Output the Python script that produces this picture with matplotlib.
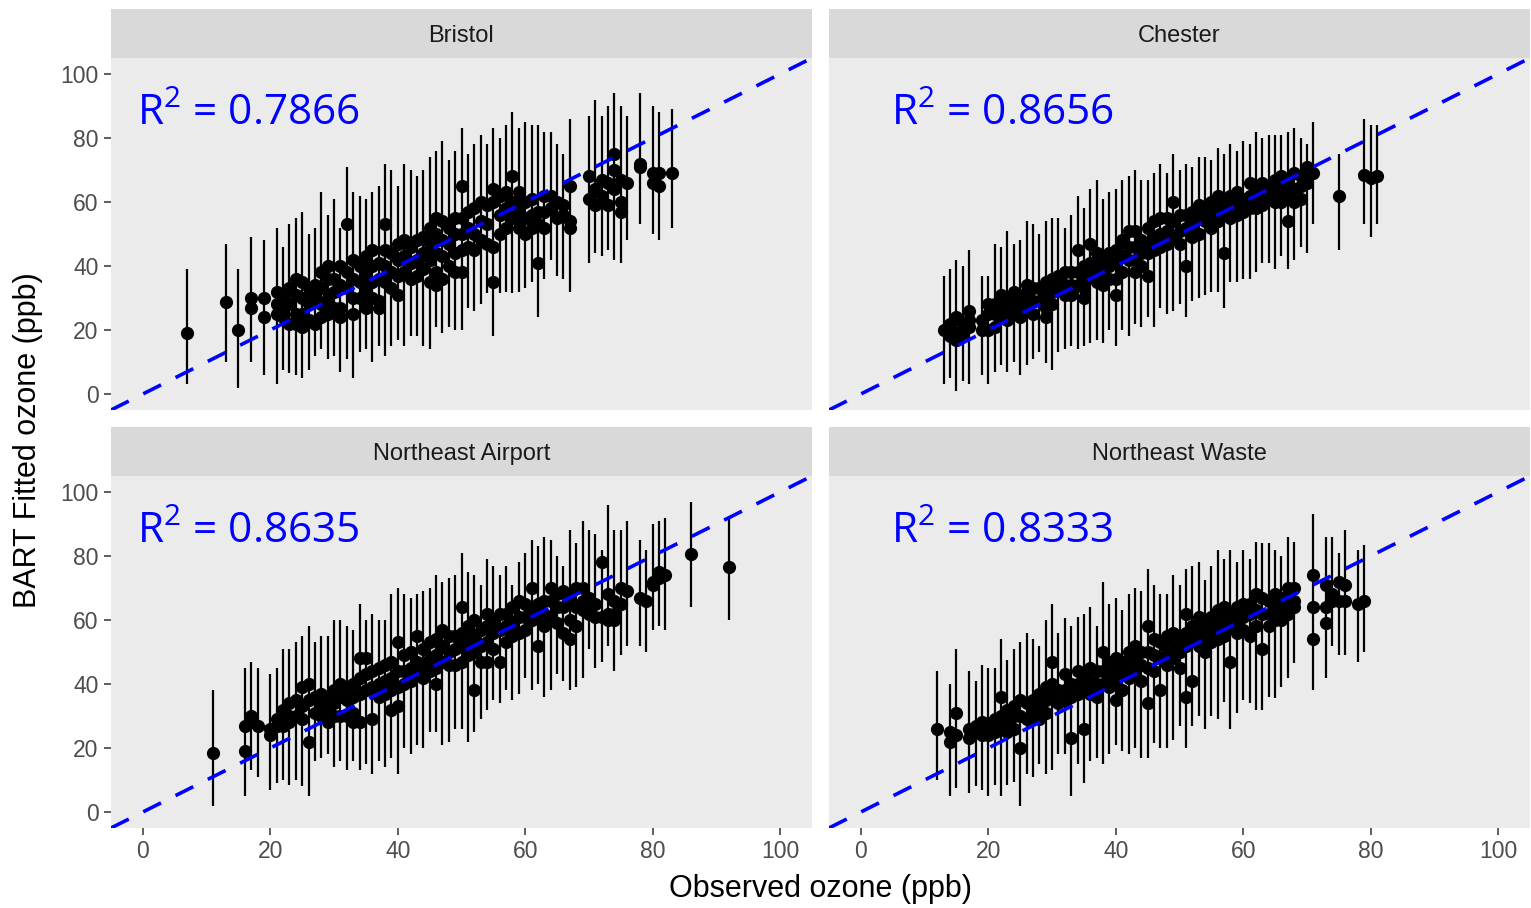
import matplotlib
matplotlib.use("Agg")
import matplotlib.pyplot as plt

plt.rcParams["font.family"] = ["Liberation Sans", "DejaVu Sans"]
plt.rcParams["mathtext.fontset"] = "custom"
plt.rcParams["mathtext.rm"] = "Open Sans"

# ---- Bristol: per observed value -> interval extent and fitted points
bristol_x = [7, 13, 15, 17, 19,
             21, 22, 23, 24, 25, 26, 27, 28, 29, 30, 31, 32, 33, 34, 35, 36, 37, 38, 39, 40,
             41, 42, 43, 44, 45, 46, 47, 48, 49, 50, 51, 52, 53, 54, 55, 56, 57, 58, 59, 60,
             61, 62, 63, 64, 65, 66, 67, 70, 71, 72, 73, 74, 75, 76, 78, 80, 81, 83]
bristol_lo = [3, 10, 2, 10, 6,
              3, 7.5, 6.5, 6, 5, 7.5, 12, 14, 11, 12, 7, 11, 5, 13, 14, 10, 15, 12, 15, 17,
              15, 18, 18, 15, 14, 21, 19, 21, 20, 20, 27, 26, 28, 31.5, 18, 31.5, 32, 31.5, 32, 33,
              35, 24, 36, 42, 37, 36, 32, 41, 44, 43, 45, 42, 41, 48, 53, 50, 48, 52]
bristol_hi = [39, 47, 39, 49, 48,
              52, 46, 53, 55, 57, 50, 52, 63, 56, 61, 52, 71, 63, 62, 61, 63, 65, 72, 70, 65,
              72, 70, 68, 70, 74, 76, 79, 73, 76, 83, 75, 78, 81, 78, 83, 80, 84, 88, 83, 85,
              84, 84, 82, 82, 78, 75, 86, 87, 92, 87, 90, 94, 90, 87, 94, 90, 88, 89]
bristol_pts = [[19], [28.6], [20], [30, 27], [30, 24],
               [32, 28, 25], [30, 26, 24], [33, 28, 22], [36, 31, 25, 22], [35, 30, 25, 21],
               [33, 28, 23], [34, 30, 22], [38, 33, 28, 24], [40, 36, 30, 25], [36, 32, 27],
               [40, 34, 27, 24], [53, 38, 33], [42, 36, 30, 25], [40, 35, 30], [43, 38, 33, 27],
               [45, 40, 35, 30], [41, 36, 29, 27], [53, 45, 40, 35], [44, 38, 33], [47, 42, 37, 31],
               [48, 43, 38], [46, 41, 36], [48, 42, 37], [49, 44, 39], [52, 47, 42, 35],
               [55, 50, 44, 38, 34], [54, 48, 43, 36], [52, 47, 40], [55, 50, 44, 38], [65, 55, 50, 45, 38],
               [57, 52, 46], [58, 50, 45], [60, 54, 48], [59, 53, 47], [64, 60, 46, 35],
               [62, 56, 50], [63, 58, 52], [68, 60, 55], [63, 57, 52], [60, 55, 50],
               [61, 56, 52], [57, 53, 41], [62, 57, 52], [62, 58], [60, 55], [59, 56], [65, 54, 52],
               [68, 61], [64, 59], [67, 62], [66, 59], [75, 70, 64], [67, 60, 57], [66],
               [72, 71], [69, 66], [69, 65], [69]]

# ---- Chester
chester_x = [13, 14, 15, 16, 17, 19, 20,
             21, 22, 23, 24, 25, 26, 27, 28, 29, 30, 31, 32, 33, 34, 35, 36, 37, 38, 39, 40,
             41, 42, 43, 44, 45, 46, 47, 48, 49, 50, 51, 52, 53, 54, 55, 56, 57, 58, 59, 60,
             61, 62, 63, 64, 65, 66, 67, 68, 69, 70, 71, 75, 79, 80, 81]
chester_lo = [3, 5, 1, 4, 3, 6, 3,
              7, 9, 7, 10, 6, 9, 11, 13, 9.6, 7.5, 13, 14, 15, 14, 15, 16, 17, 16, 20, 15,
              20, 18, 22, 21, 24, 21, 27, 25, 26, 28, 24, 29, 30, 31, 32, 32, 27, 35, 35, 36,
              36, 38, 41, 41, 39, 43, 39, 42, 46, 44, 53, 45, 53, 49, 53]
chester_hi = [37, 39, 42, 40, 45, 37, 37,
              47, 46, 51, 47, 48, 54, 53, 50, 54, 55, 55, 52, 56, 62, 58, 64, 67, 61, 63, 64,
              67, 68, 70, 67, 67, 69, 72, 69, 75, 70, 72, 71, 74, 74, 73, 77, 75, 78, 76, 79,
              78, 82, 80, 81, 81, 81, 82, 83, 80, 78, 85, 75, 86, 84, 84]
chester_pts = [[20], [22, 18], [24, 19, 17], [22, 19], [26, 23, 21], [23, 20], [28, 25, 20],
               [28, 25, 21], [31, 27, 24], [30, 27, 23], [32, 28, 25], [31, 28, 24],
               [34, 30, 26], [33, 29, 25], [33, 29], [35, 31, 27, 24], [36, 32, 28],
               [37, 33], [38, 34, 31], [38, 34, 31], [45, 38, 34], [40, 36, 33, 30],
               [47, 41, 37], [44, 39, 35], [42, 38, 34], [44, 40, 36], [45, 41, 36, 31],
               [48, 43, 38], [51, 46, 42], [51, 46, 42, 38], [48, 44, 40], [52, 47, 44, 37],
               [54, 49, 45], [55, 50, 46], [55, 51, 47], [60, 54, 49], [56, 51, 47],
               [56, 52, 40], [57, 53, 49], [59, 55, 50], [58, 54], [60, 56, 52],
               [62, 58, 54], [60, 56, 44], [62, 58, 55], [63, 59, 56], [61, 57],
               [66, 62, 58], [65, 61, 58], [66, 62, 59], [65, 61], [67, 63, 60],
               [68, 64, 60], [66, 62, 54], [69, 64, 60], [68, 65, 61], [71, 66], [69],
               [62], [68.5], [67.5], [68]]

# ---- Northeast Airport
airport_x = [11, 16, 17, 18, 20,
             21, 22, 23, 24, 25, 26, 27, 28, 29, 30, 31, 32, 33, 34, 35, 36, 37, 38, 39, 40,
             41, 42, 43, 44, 45, 46, 47, 48, 49, 50, 51, 52, 53, 54, 55, 56, 57, 58, 59, 60,
             61, 62, 63, 64, 65, 66, 67, 68, 69, 70, 71, 72, 73, 74, 75, 76,
             78, 79, 80, 81, 82, 86, 92]
airport_lo = [2, 5, 13, 11, 7,
              9, 10, 8.5, 10, 8, 5, 16, 17, 18, 14, 16, 13, 16, 13, 15, 12, 16, 14, 17, 12,
              20, 18, 21, 20, 25, 25, 21, 22, 26, 26, 22, 25, 29, 32, 35, 34, 38, 35, 37, 42,
              38, 40, 36, 38, 43, 41, 38, 39, 42, 51, 45, 47, 52, 44, 49, 52,
              52, 50, 57, 58, 57, 64, 60]
airport_hi = [38, 45, 47, 45, 43,
              45, 51, 51, 53, 55, 58, 53, 55, 55, 60, 60, 58, 57, 65, 60, 62, 60, 60, 68, 70,
              68, 67, 68, 69, 70, 74, 72, 73, 74, 81, 75, 74, 71, 79, 77, 74, 77, 71, 78, 81,
              85, 83, 86, 85, 80, 77, 88, 84, 91, 88, 87, 82, 96, 88, 88, 91,
              85, 82, 90, 91, 92, 97, 92]
airport_pts = [[18.5], [27, 19], [30, 28], [27], [26, 24],
               [29, 27], [32, 27], [34, 30, 28], [35, 30], [39, 33, 29], [40, 35, 22],
               [36, 31], [37, 33, 30], [36, 32, 28], [38, 34, 30], [40, 36, 30], [39, 35, 30],
               [40, 36, 31, 28], [48, 42, 37, 28], [48, 43, 38], [44, 39, 29], [45, 40, 36],
               [46, 41, 37], [47, 42, 38, 32], [53, 44, 39, 33], [49, 44, 40], [50, 45, 41],
               [55, 47, 43], [51, 46, 42], [53, 48, 44], [54, 49, 45, 40], [57, 52, 47],
               [55, 50, 46], [55, 51, 46], [64, 56, 52, 47], [58, 53, 49], [60, 55, 50, 38],
               [57, 52, 47], [62, 58, 53, 47], [60, 56, 51], [62, 57, 47], [62, 58, 53],
               [64, 59, 55], [66, 61, 56], [65, 61, 57], [70, 63, 60], [65, 61, 52],
               [66, 62, 58], [70, 66, 61], [68, 64, 59], [69, 64, 56], [67, 60, 54],
               [70, 64, 58], [70, 66, 63], [67, 62], [65, 61], [78, 61], [68, 62, 60],
               [66, 62, 60], [70, 65], [69], [67], [66], [72, 71], [75, 73], [74],
               [80.6], [76.5]]

# ---- Northeast Waste
waste_x = [12, 14, 15, 17, 18, 19, 20,
           21, 22, 23, 24, 25, 26, 27, 28, 29, 30, 31, 32, 33, 34, 35, 36, 37, 38, 39, 40,
           41, 42, 43, 44, 45, 46, 47, 48, 49, 50, 51, 52, 53, 54, 55, 56, 57, 58, 59, 60,
           61, 62, 63, 64, 65, 66, 67, 68, 71, 73, 74, 75, 76, 78, 79]
waste_lo = [10, 5, 7.5, 6, 8, 7, 5,
            8.5, 5, 8.5, 9.5, 2, 12, 11, 15, 12, 13, 18, 18, 5, 15, 9, 16, 17, 15, 18, 21,
            19, 18, 20, 17, 17, 21.5, 20, 20, 22.5, 27, 20, 27, 30, 26, 30, 29, 34.5, 26, 31, 35,
            34, 32, 32, 36, 35.5, 39, 42, 46.5, 38, 42, 52, 49, 49, 47, 50]
waste_hi = [44, 40, 51, 44, 41, 46, 45,
            45, 54, 47.5, 51, 53, 56, 54, 52, 60, 65, 56, 60.5, 58, 61, 62, 64, 58, 72, 65, 67,
            63, 68, 70, 69, 76, 71, 68, 68, 74, 71, 76, 77, 78, 72.5, 77, 82, 79, 82, 78, 82,
            79, 84.5, 84, 84, 82, 80, 86, 84.5, 93, 86, 86, 81, 88, 82, 83.5]
waste_pts = [[26], [25, 22], [31, 24], [26, 23], [27, 25], [28, 24], [27, 24],
             [29, 25], [36, 30, 27], [32, 28, 25], [33, 30, 26], [35, 30, 20], [34, 29],
             [35, 31], [37, 33, 29], [39, 35, 31], [47, 40, 36], [38, 34], [43, 38, 35],
             [40, 36, 23], [44, 40, 37], [42, 38, 26], [45, 41, 37], [44, 40, 36],
             [50, 44, 40], [47, 43, 39], [48, 44, 40, 35], [47, 43, 38], [50, 46, 42],
             [52, 48, 44], [50, 46, 41], [58, 50, 45, 34], [54, 49, 44], [53, 48, 38],
             [55, 51, 46], [56, 52, 48], [55, 50, 45], [62, 56, 52, 36], [58, 54, 41],
             [61, 56, 52], [58, 54, 50], [61, 57, 53], [63, 58, 54], [64, 60, 55],
             [62, 58, 47], [64, 60, 56], [65, 61, 57], [65, 62, 55], [68, 63, 58],
             [67, 62, 51], [66, 62, 58], [68, 64, 60], [67, 63, 60], [70, 66, 62],
             [70, 66, 64], [74, 64, 54], [71, 64, 59], [68, 66], [72, 66], [71, 66],
             [65], [66]]

sites = ["Bristol", "Chester", "Northeast Airport", "Northeast Waste"]
r2 = ["0.7866", "0.8656", "0.8635", "0.8333"]
panels = [(bristol_x, bristol_lo, bristol_hi, bristol_pts),
          (chester_x, chester_lo, chester_hi, chester_pts),
          (airport_x, airport_lo, airport_hi, airport_pts),
          (waste_x, waste_lo, waste_hi, waste_pts)]

W, H = 1531, 908
fig = plt.figure(figsize=(W / 100, H / 100), dpi=100)
# pixel boxes: (left, top, width, height) for panel; strip sits above
boxes = [(111, 58, 701, 352), (829, 58, 701, 352),
         (111, 476, 701, 352), (829, 476, 701, 352)]
strip_h = 49

for i, (site, r, (xs, lo, hi, pts), (l, t, w, h)) in enumerate(zip(sites, r2, panels, boxes)):
    ax = fig.add_axes([l / W, 1 - (t + h) / H, w / W, h / H])
    ax.set_facecolor("#EBEBEB")
    for s in ax.spines.values():
        s.set_visible(False)
    ax.vlines(xs, lo, hi, color="black", lw=1.6, zorder=2)
    px = [x for x, ys in zip(xs, pts) for _ in ys]
    py = [y for ys in pts for y in ys]
    ax.plot(px, py, "o", color="black", ms=8.5, zorder=3)
    ax.axline((0, 0), slope=1, color="blue", lw=2.6, dashes=(5.5, 4.5), zorder=4)
    ax.set_xlim(-5, 105)
    ax.set_ylim(-5, 105)
    ax.set_xticks([0, 20, 40, 60, 80, 100])
    ax.set_yticks([0, 20, 40, 60, 80, 100])
    ax.tick_params(colors="#333333", labelcolor="#4D4D4D", labelsize=16.5,
                   length=5, width=1.1, pad=4)
    if i % 2 == 1:
        ax.tick_params(axis="y", left=False, labelleft=False)
    if i < 2:
        ax.tick_params(axis="x", bottom=False, labelbottom=False)
    ax.text(0.037 if i % 2 == 0 else 0.088, 0.84, r"R$^{2}$ = " + r,
            transform=ax.transAxes, color="blue", fontsize=30.5,
            family=["Open Sans", "DejaVu Sans"], va="center", ha="left")

    sax = fig.add_axes([l / W, 1 - t / H, w / W, strip_h / H])
    sax.set_facecolor("#D9D9D9")
    sax.set_xticks([])
    sax.set_yticks([])
    for s in sax.spines.values():
        s.set_visible(False)
    sax.text(0.5, 0.45, site, ha="center", va="center", fontsize=17, color="#1A1A1A",
             transform=sax.transAxes)

fig.text(820 / W, 1 - 889 / H, "Observed ozone (ppb)", ha="center", va="center", fontsize=22)
fig.text(28 / W, 1 - 440 / H, "BART Fitted ozone (ppb)", ha="center", va="center",
         rotation=90, fontsize=22)

fig.savefig("out.png", dpi=100, facecolor="white")
